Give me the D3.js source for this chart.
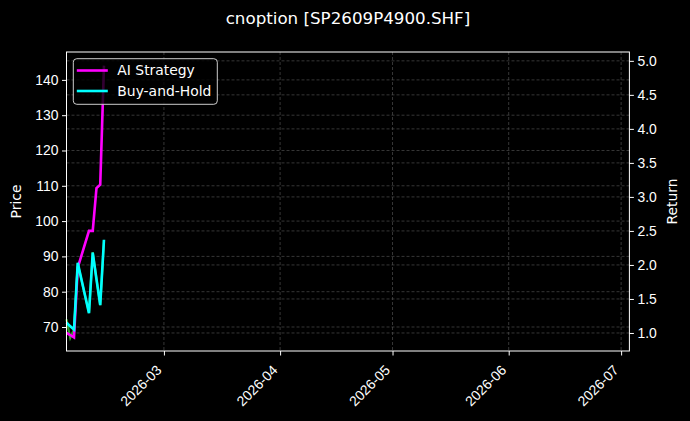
<!DOCTYPE html>
<html>
<head>
<meta charset="utf-8">
<style>
  body { margin: 0; background: #000; }
  svg { display: block; font-family: "DejaVu Sans", sans-serif; }
  .grid line { stroke: #5a5a5a; stroke-width: 0.6; stroke-dasharray: 3,2; }
  .axis text { fill: #fff; font-size: 13.9px; }
  .axis line { stroke: #fff; }
</style>
<title>cnoption [SP2609P4900.SHF]</title>
</head>
<body>
<script src="https://cdn.jsdelivr.net/npm/d3@7"></script>
<script>

// data
var dates      = ["2026-02-03", "2026-02-04", "2026-02-05", "2026-02-06", "2026-02-09",
                  "2026-02-10", "2026-02-11", "2026-02-12", "2026-02-13"];
var price      = [72.2, 66.9, 69.3, 88.0, 74.0, 91.2, 83.6, 76.2, 94.6];
var aiStrategy = [1.00, 0.97, 0.935, 1.96, 2.50, 2.50, 3.13, 3.18, 4.93];
var buyHold    = [1.15, 1.10, 1.05, 2.03, 1.29, 2.18, 1.79, 1.41, 2.37];
var priceTicks  = [70, 80, 90, 100, 110, 120, 130, 140];
var returnTicks = [1.0, 1.5, 2.0, 2.5, 3.0, 3.5, 4.0, 4.5, 5.0];
var monthTicks  = ["2026-03-01", "2026-04-01", "2026-05-01", "2026-06-01", "2026-07-01"];

var parse_time = d3.timeParse("%Y-%m-%d");
var format_month = d3.timeFormat("%Y-%m");

var W = 690, H = 421;
var margin = {top: 52, right: 60.6, bottom: 70, left: 66.5},
    width = W - margin.left - margin.right,
    height = H - margin.top - margin.bottom;

var x = d3.scaleTime()
    .domain([parse_time("2026-02-03"), new Date(2026, 6, 3, 5)])
    .range([0, width]);
var yPrice = d3.scaleLinear().domain([63.2, 147.9]).range([height, 0]);
var yRet   = d3.scaleLinear().domain([0.735, 5.13]).range([height, 0]);

var svg = d3.select("body").append("svg")
    .attr("width", W)
    .attr("height", H);

svg.append("rect").attr("width", W).attr("height", H).attr("fill", "#000");

var g = svg.append("g")
    .attr("transform", `translate(${margin.left},${margin.top})`);

var monthDates = monthTicks.map(parse_time);

// grids
var grid = g.append("g").attr("class", "grid");
grid.selectAll(".gx").data(monthDates).enter().append("line")
    .attr("x1", d => x(d)).attr("x2", d => x(d))
    .attr("y1", 0).attr("y2", height);
grid.selectAll(".gp").data(priceTicks).enter().append("line")
    .attr("x1", 0).attr("x2", width)
    .attr("y1", d => yPrice(d)).attr("y2", d => yPrice(d));
grid.selectAll(".gr").data(returnTicks).enter().append("line")
    .attr("x1", 0).attr("x2", width)
    .attr("y1", d => yRet(d)).attr("y2", d => yRet(d));

var rows = dates.map((d, i) => ({
    date: parse_time(d), price: price[i], ai: aiStrategy[i], bh: buyHold[i]
}));

g.append("path").datum(rows)
    .attr("fill", "none").attr("stroke", "#2e9e2e").attr("stroke-width", 2.2)
    .attr("d", d3.line().x(d => x(d.date)).y(d => yPrice(d.price)));

g.append("path").datum(rows)
    .attr("fill", "none").attr("stroke", "#ff00ff").attr("stroke-width", 2.6)
    .attr("d", d3.line().x(d => x(d.date)).y(d => yRet(d.ai)));

g.append("path").datum(rows)
    .attr("fill", "none").attr("stroke", "#00ffff").attr("stroke-width", 2.6)
    .attr("d", d3.line().x(d => x(d.date)).y(d => yRet(d.bh)));

// axes
var xAxis = g.append("g").attr("class", "axis")
    .attr("transform", `translate(0,${height})`)
    .call(d3.axisBottom(x).tickValues(monthDates).tickFormat(format_month).tickSizeOuter(0).tickSize(4.5));
xAxis.select(".domain").remove();
xAxis.selectAll("text")
    .style("text-anchor", "end")
    .attr("x", 0).attr("y", 0).attr("dy", "0.35em")
    .attr("transform", "translate(-5.5,16.5) rotate(-45)");

var yAxisL = g.append("g").attr("class", "axis")
    .call(d3.axisLeft(yPrice).tickValues(priceTicks).tickSizeOuter(0).tickSize(4.5).tickPadding(3.5));
yAxisL.select(".domain").remove();

var yAxisR = g.append("g").attr("class", "axis")
    .attr("transform", `translate(${width},0)`)
    .call(d3.axisRight(yRet).tickValues(returnTicks).tickFormat(d3.format(".1f")).tickSizeOuter(0).tickSize(4.5).tickPadding(3.5));
yAxisR.select(".domain").remove();

g.append("rect")
    .attr("width", width).attr("height", height)
    .attr("fill", "none").attr("stroke", "#fff").attr("stroke-width", 1);

// labels
svg.append("text")
    .attr("x", margin.left + width / 2).attr("y", 24)
    .attr("text-anchor", "middle").attr("fill", "#fff").style("font-size", "16.7px")
    .text("cnoption [SP2609P4900.SHF]");

svg.append("text")
    .attr("transform", `translate(21,${margin.top + height / 2}) rotate(-90)`)
    .attr("text-anchor", "middle").attr("fill", "#fff").style("font-size", "13.9px")
    .text("Price");

svg.append("text")
    .attr("transform", `translate(677,${margin.top + height / 2}) rotate(-90)`)
    .attr("text-anchor", "middle").attr("fill", "#fff").style("font-size", "13.9px")
    .text("Return");

// legend
var legendItems = [{name: "AI Strategy", color: "#ff00ff"}, {name: "Buy-and-Hold", color: "#00ffff"}];
var legend = g.append("g").attr("transform", "translate(6.8,6.7)");
legend.append("rect")
    .attr("width", 144).attr("height", 45.6).attr("rx", 3.5)
    .attr("fill", "#000").attr("fill-opacity", 0.8)
    .attr("stroke", "#ccc").attr("stroke-width", 1);
var li = legend.selectAll(".li").data(legendItems).enter().append("g")
    .attr("transform", (d, i) => `translate(0,${11.8 + i * 20.5})`);
li.append("line")
    .attr("x1", 3.5).attr("x2", 34.5)
    .attr("stroke", d => d.color).attr("stroke-width", 2.6);
li.append("text")
    .attr("x", 44).attr("dy", "0.35em")
    .attr("fill", "#fff").style("font-size", "13.9px")
    .text(d => d.name);

</script>
</body>
</html>
